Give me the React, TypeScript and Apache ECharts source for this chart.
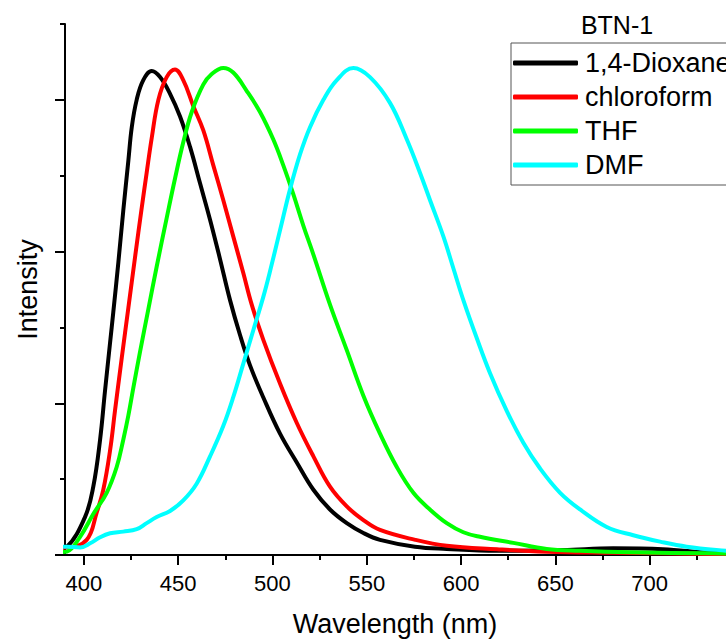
import { useEffect, useRef } from 'react';
import * as echarts from 'echarts';

const FONT = '"Liberation Sans", Arial, Helvetica, sans-serif';

// Tick positions
const xMajorTicks = [400, 450, 500, 550, 600, 650, 700, 750];
const xMinorTicks = [425, 475, 525, 575, 625, 675, 725];
const xLabelValues = [400, 450, 500, 550, 600, 650, 700];
const yMajorTicks = [0, 1, 2, 3];
const yMinorTicks = [0.5, 1.5, 2.5, 3.5];

const seriesNames = ['1,4-Dioxane', 'chloroform', 'THF', 'DMF'];
const seriesColors = ['#000000', '#ff0000', '#00ff00', '#00ffff'];

// [wavelength (nm), intensity (a.u.)]
const dioxane: [number, number][] = [
  [389, 0.05], [391, 0.055], [400.6, 0.25], [405, 0.45], [408.6, 0.76], [411.2, 1.08], [413.9, 1.4],
  [415.6, 1.6], [418.3, 1.93], [420.9, 2.27], [423.6, 2.6], [425.4, 2.82], [428, 3.0],
  [431.5, 3.13], [436, 3.19], [440.4, 3.15], [445.7, 3.04], [451, 2.89], [456.3, 2.69],
  [461.6, 2.45], [466.9, 2.21], [472.2, 1.95], [477.5, 1.68], [482.8, 1.45], [488.1, 1.25],
  [495.1, 1.04], [504, 0.8], [512.9, 0.61], [521.7, 0.43], [530.5, 0.3], [539.4, 0.21],
  [548.2, 0.145], [557, 0.1], [575.5, 0.055], [592.4, 0.04], [619, 0.028], [654, 0.033],
  [680.6, 0.044], [707, 0.038], [733.6, 0.013], [750, 0.01],
];
const chloroform: [number, number][] = [
  [389, 0.05], [391, 0.05], [401.5, 0.1], [406.8, 0.28], [410.3, 0.43], [413.9, 0.69], [416.5, 0.95],
  [420.1, 1.3], [423.6, 1.63], [427.1, 1.96], [430.7, 2.29], [433.3, 2.52], [436, 2.75],
  [439.5, 3.0], [443.9, 3.15], [448.3, 3.2], [452.7, 3.13], [458, 2.96], [463.3, 2.8],
  [468.6, 2.57], [473.9, 2.34], [479.2, 2.1], [484.5, 1.86], [489, 1.65], [495.1, 1.42],
  [504, 1.13], [512.9, 0.87], [521.7, 0.65], [530.5, 0.45], [539.4, 0.32], [548.2, 0.23],
  [557, 0.165], [575.7, 0.1], [592.4, 0.061], [619, 0.038], [645.4, 0.022], [680.7, 0.015],
  [733.6, 0.007], [750, 0.005],
];
const thf: [number, number][] = [
  [389, 0.02], [391, 0.022], [398, 0.12], [405, 0.27], [412.1, 0.41], [417.4, 0.58], [420.9, 0.76],
  [423.6, 0.92], [426.2, 1.1], [429.8, 1.34], [434.2, 1.62], [438.6, 1.9], [443.9, 2.22],
  [448.3, 2.48], [452.7, 2.72], [457.2, 2.92], [463.3, 3.1], [467.8, 3.17], [473.9, 3.21],
  [479.2, 3.18], [486.3, 3.06], [493.4, 2.92], [500.4, 2.74], [505.7, 2.57], [511, 2.38],
  [516.4, 2.17], [521.7, 1.98], [530.5, 1.65], [539.4, 1.35], [548.2, 1.05], [557, 0.8],
  [565.9, 0.58], [574.7, 0.41], [583.5, 0.3], [592.4, 0.21], [601.2, 0.15], [610, 0.12],
  [627.7, 0.08], [645.4, 0.04], [663, 0.028], [689.6, 0.018], [733.6, 0.011], [750, 0.01],
];
const dmf: [number, number][] = [
  [389, 0.055], [391, 0.055], [398, 0.05], [403.3, 0.077], [408.6, 0.117], [413.9, 0.143], [420.9, 0.154],
  [428, 0.17], [433.3, 0.21], [438.6, 0.25], [445.7, 0.29], [452.7, 0.36], [459.8, 0.47],
  [466.9, 0.65], [473.9, 0.85], [479.2, 1.04], [484.5, 1.26], [489.8, 1.48], [495.1, 1.7],
  [498.7, 1.87], [504, 2.14], [509.3, 2.41], [514.6, 2.64], [519.9, 2.82], [527, 3.0],
  [534.1, 3.13], [542.9, 3.21], [551.7, 3.15], [562.3, 2.98], [571.2, 2.74], [578.2, 2.52],
  [583.5, 2.34], [590.6, 2.1], [595.9, 1.89], [601.2, 1.68], [608.3, 1.43], [615.3, 1.2],
  [624.2, 0.95], [633, 0.74], [641.9, 0.57], [652.5, 0.41], [663.1, 0.3], [677.2, 0.185],
  [691.3, 0.13], [705.5, 0.088], [719.6, 0.055], [740.5, 0.028], [750, 0.02],
];
const seriesData = [dioxane, chloroform, thf, dmf];

const tickLine = { color: '#000', width: 2 };

export default function App() {
  const ref = useRef<HTMLDivElement>(null);
  useEffect(() => {
    if (!ref.current) return;
    const chart = echarts.init(ref.current, null, { renderer: 'svg' });
    chart.setOption({
      animation: false,
      backgroundColor: '#fff',
      grid: { left: 65, top: 24, width: 679, height: 531, outerBoundsMode: 'none', containLabel: false },
      xAxis: [
        {
          type: 'value', min: 390, max: 750, position: 'bottom',
          axisLine: { show: true, onZero: false, lineStyle: tickLine },
          axisTick: { show: true, customValues: xMajorTicks, length: 10, lineStyle: tickLine },
          axisLabel: { show: true, customValues: xLabelValues, fontSize: 22, color: '#000', fontFamily: FONT, margin: 17 },
          splitLine: { show: false },
          name: 'Wavelength (nm)', nameLocation: 'middle', nameGap: 55,
          nameTextStyle: { fontSize: 27, fontFamily: FONT, color: '#000', padding: [0, 19, 0, 0] },
        },
        {
          type: 'value', min: 390, max: 750, position: 'bottom',
          axisLine: { show: false, onZero: false },
          axisTick: { show: true, customValues: xMinorTicks, length: 5, lineStyle: tickLine },
          axisLabel: { show: false },
          splitLine: { show: false },
        },
      ],
      yAxis: [
        {
          type: 'value', min: 0, max: 3.5, position: 'left',
          axisLine: { show: true, onZero: false, lineStyle: tickLine },
          axisTick: { show: true, customValues: yMajorTicks, length: 10, lineStyle: tickLine },
          axisLabel: { show: false },
          splitLine: { show: false },
          name: 'Intensity', nameLocation: 'middle', nameGap: 24, nameRotate: 90,
          nameTextStyle: { fontSize: 27, fontFamily: FONT, color: '#000' },
        },
        {
          type: 'value', min: 0, max: 3.5, position: 'left',
          axisLine: { show: false, onZero: false },
          axisTick: { show: true, customValues: yMinorTicks, length: 5, lineStyle: tickLine },
          axisLabel: { show: false },
          splitLine: { show: false },
        },
      ],
      legend: {
        orient: 'vertical', left: 511, top: 43,
        padding: [3, 10, 3, 2], itemGap: 0, itemWidth: 65, itemHeight: 5,
        icon: 'roundRect', selectedMode: false,
        borderColor: '#555', borderWidth: 1, backgroundColor: '#fff',
        textStyle: { fontSize: 27, fontFamily: FONT, color: '#000', lineHeight: 34, padding: [0, 0, 0, 2] },
        data: seriesNames,
      },
      graphic: [
        {
          type: 'text', x: 617, y: 25, z: 100,
          style: { text: 'BTN-1', fontSize: 25, fontFamily: FONT, fill: '#000', align: 'center', verticalAlign: 'middle' },
        },
      ],
      series: seriesNames.map((name, i) => ({
        name, type: 'line', xAxisIndex: 0, yAxisIndex: 0,
        data: seriesData[i], showSymbol: false, symbol: 'none',
        smooth: 0.4,
        lineStyle: { color: seriesColors[i], width: 4, join: 'round', cap: 'round' },
        itemStyle: { color: seriesColors[i] },
        clip: true,
      })),
    });
    return () => chart.dispose();
  }, []);
  return <div ref={ref} style={{ position: 'fixed', left: 0, top: 0, width: 726, height: 640 }} />;
}
